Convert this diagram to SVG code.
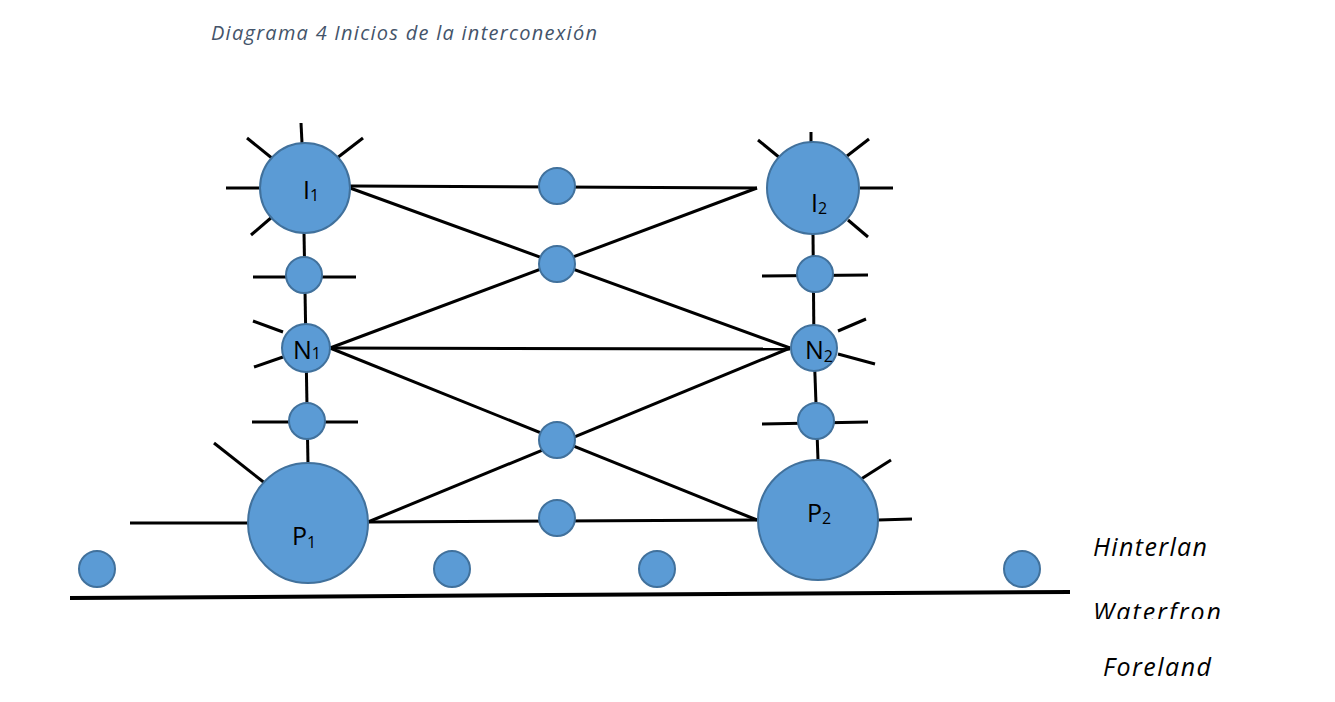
<svg xmlns="http://www.w3.org/2000/svg" width="1335" height="702" viewBox="0 0 1335 702">
<style>
.n{fill:#5b9bd5;stroke:#41719c;stroke-width:2}
.e{stroke:#000;stroke-width:3;fill:none;stroke-linecap:butt}
.lbl{font-family:"Open Sans","Liberation Sans",sans-serif;font-size:25px;fill:#000}
.sub{font-size:16px}
.side{font-family:"Open Sans","Liberation Sans",sans-serif;font-style:italic;font-size:25px;fill:#000}
.title{font-family:"Open Sans","Liberation Sans",sans-serif;font-style:italic;font-size:20px;fill:#44546a}
</style>
<defs>
<clipPath id="wclip"><rect x="1080" y="590" width="200" height="29"/></clipPath>
</defs>
<rect width="1335" height="702" fill="#fff"/>
<text class="title" x="211" y="40" textLength="386" lengthAdjust="spacing">Diagrama 4 Inicios de la interconexión</text>

<g id="connectors">
<line class="e" x1="301" y1="123" x2="302" y2="143"/>
<line class="e" x1="247" y1="138" x2="273" y2="159"/>
<line class="e" x1="363" y1="138" x2="337" y2="158"/>
<line class="e" x1="226" y1="188" x2="260" y2="188"/>
<line class="e" x1="251" y1="235" x2="272" y2="217"/>
<line class="e" x1="811" y1="132" x2="811" y2="143"/>
<line class="e" x1="758" y1="140" x2="780" y2="158"/>
<line class="e" x1="869" y1="139" x2="847" y2="156"/>
<line class="e" x1="860" y1="188" x2="893" y2="188"/>
<line class="e" x1="848" y1="220" x2="868" y2="237"/>
<line class="e" x1="304" y1="232" x2="306" y2="348"/>
<line class="e" x1="306" y1="348" x2="308" y2="465"/>
<line class="e" x1="813" y1="233" x2="814" y2="348"/>
<line class="e" x1="814" y1="348" x2="818" y2="460"/>
<line class="e" x1="253" y1="277" x2="356" y2="277"/>
<line class="e" x1="252" y1="422" x2="358" y2="422"/>
<line class="e" x1="762" y1="276" x2="868" y2="275"/>
<line class="e" x1="762" y1="424" x2="868" y2="422"/>
<line class="e" x1="253" y1="321" x2="283" y2="332"/>
<line class="e" x1="254" y1="367" x2="283" y2="357"/>
<line class="e" x1="838" y1="331" x2="866" y2="319"/>
<line class="e" x1="838" y1="354" x2="875" y2="364"/>
<line class="e" x1="214" y1="443" x2="266" y2="484"/>
<line class="e" x1="130" y1="523" x2="248" y2="523"/>
<line class="e" x1="858" y1="481" x2="891" y2="460"/>
<line class="e" x1="878" y1="520" x2="912" y2="519"/>
<line class="e" x1="350" y1="186" x2="757" y2="188"/>
<line class="e" x1="350" y1="188" x2="790" y2="348"/>
<line class="e" x1="330" y1="348" x2="757" y2="188"/>
<line class="e" x1="330" y1="348" x2="790" y2="349"/>
<line class="e" x1="330" y1="348" x2="757" y2="520"/>
<line class="e" x1="368" y1="522" x2="790" y2="348"/>
<line class="e" x1="368" y1="522" x2="757" y2="520"/>
<line x1="70" y1="598" x2="1070" y2="592" stroke="#000" stroke-width="4"/>
</g>

<g id="I1"><circle class="n" cx="305" cy="188" r="45"/><text class="lbl" x="303" y="199">I<tspan class="sub" dy="2">1</tspan></text></g>
<g id="I2"><circle class="n" cx="813" cy="188" r="46"/><text class="lbl" x="811" y="212">I<tspan class="sub" dy="2">2</tspan></text></g>
<g id="s1"><circle class="n" cx="304" cy="275" r="18"/></g>
<g id="N1"><circle class="n" cx="306" cy="348" r="24"/><text class="lbl" x="293" y="359">N<tspan class="sub" dy="0">1</tspan></text></g>
<g id="s2"><circle class="n" cx="307" cy="421" r="18"/></g>
<g id="P1"><circle class="n" cx="308" cy="523" r="60"/><text class="lbl" x="292" y="545">P<tspan class="sub" dy="3">1</tspan></text></g>
<g id="s3"><circle class="n" cx="815" cy="274" r="18"/></g>
<g id="N2"><circle class="n" cx="814" cy="348" r="23"/><text class="lbl" x="805" y="359">N<tspan class="sub" dy="3">2</tspan></text></g>
<g id="s4"><circle class="n" cx="816" cy="421" r="18"/></g>
<g id="P2"><circle class="n" cx="818" cy="520" r="60"/><text class="lbl" x="807" y="522">P<tspan class="sub" dy="2">2</tspan></text></g>
<g id="m1"><circle class="n" cx="557" cy="186" r="18"/></g>
<g id="m2"><circle class="n" cx="557" cy="264" r="18"/></g>
<g id="m3"><circle class="n" cx="557" cy="440" r="18"/></g>
<g id="m4"><circle class="n" cx="557" cy="518" r="18"/></g>
<g id="b1"><circle class="n" cx="97" cy="569" r="18"/></g>
<g id="b2"><circle class="n" cx="452" cy="569" r="18"/></g>
<g id="b3"><circle class="n" cx="657" cy="569" r="18"/></g>
<g id="b4"><circle class="n" cx="1022" cy="569" r="18"/></g>

<text class="side" x="1093" y="556" textLength="114" lengthAdjust="spacing">Hinterlan</text>
<text class="side" x="1093" y="621" textLength="128" lengthAdjust="spacing" clip-path="url(#wclip)">Waterfron</text>
<text class="side" x="1103" y="676" textLength="108" lengthAdjust="spacing">Foreland</text>
</svg>
